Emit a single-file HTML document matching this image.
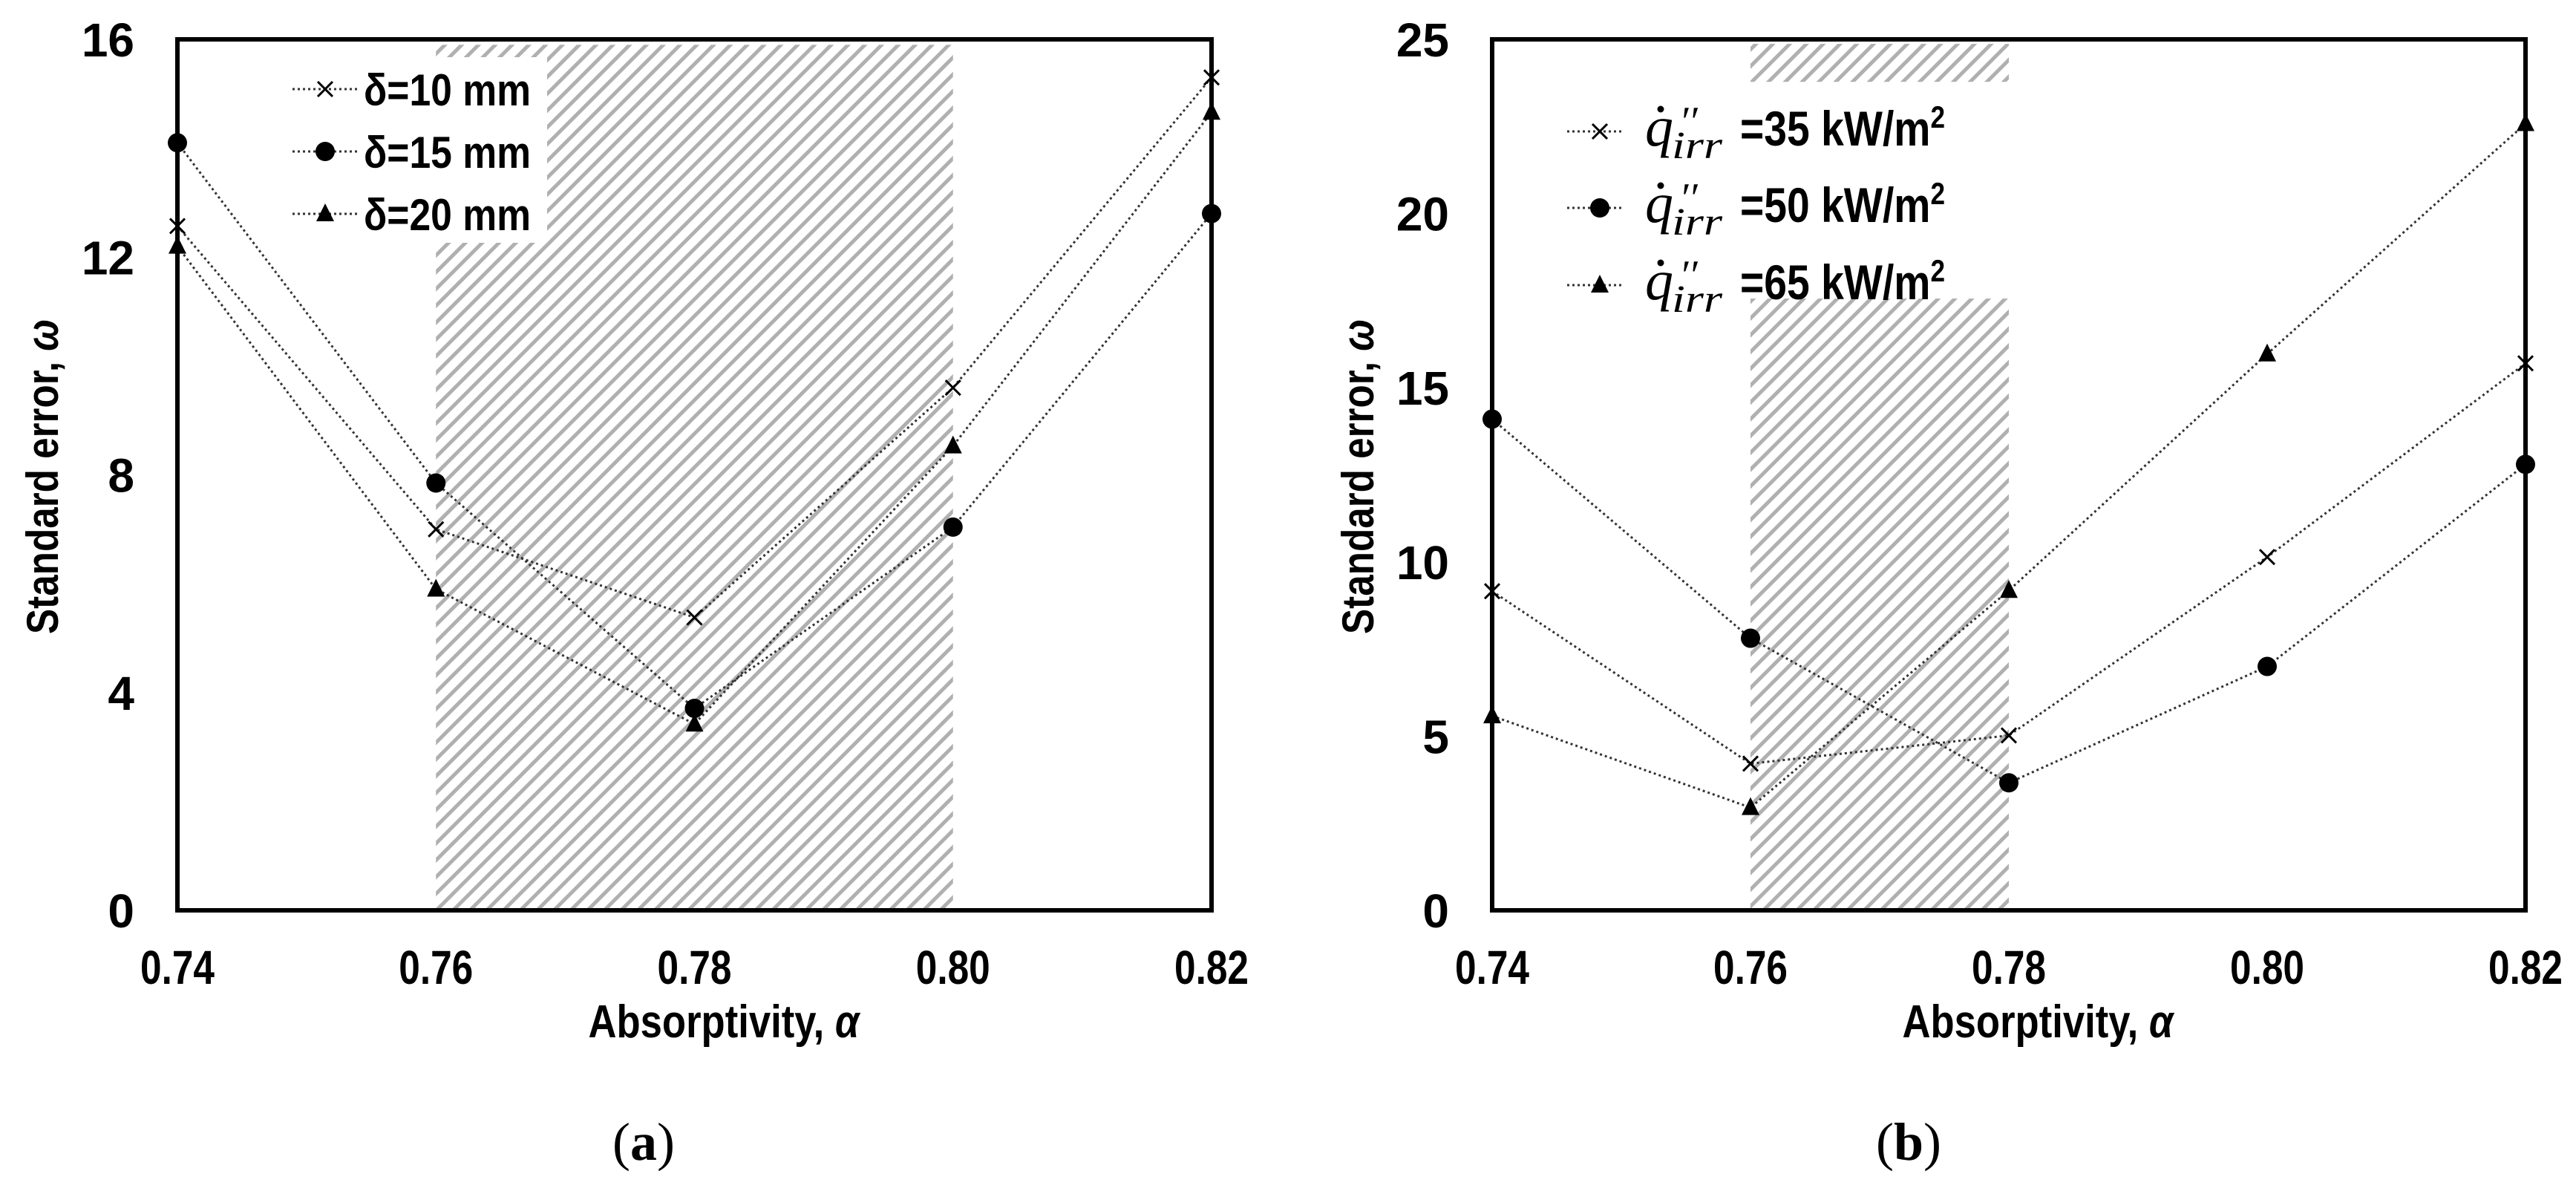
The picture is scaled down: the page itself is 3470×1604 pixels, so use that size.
<!DOCTYPE html>
<html><head><meta charset="utf-8"><style>
html,body{margin:0;padding:0;background:#fff;}
svg{display:block;}
text{font-family:"Liberation Sans Narrow","Liberation Sans",sans-serif;font-weight:bold;fill:#000;}
.serif{font-family:"Liberation Serif",serif;font-weight:normal;}
</style></head><body>
<svg id="fig" width="3470" height="1604" viewBox="0 0 3470 1604" xmlns="http://www.w3.org/2000/svg">
<defs>
<pattern id="hatch" patternUnits="userSpaceOnUse" width="16" height="16" patternTransform="rotate(45)">
<rect width="16" height="16" fill="#fff"/>
<rect x="0" y="0" width="5" height="16" fill="#b0b0b0"/>
</pattern>
</defs>
<g id="chartA"></g>
<g id="chartB"></g>
<text class="serif" x="867" y="1562" font-size="72" text-anchor="middle">(<tspan font-weight="bold">a</tspan>)</text>
<text class="serif" x="2571" y="1562" font-size="72" text-anchor="middle">(<tspan font-weight="bold">b</tspan>)</text>
</svg>
<script>
const categories = [0.74, 0.76, 0.78, 0.80, 0.82];
const xTickLabels = ["0.74", "0.76", "0.78", "0.80", "0.82"];
const yTicksA = [0, 4, 8, 12, 16];
const yTicksB = [0, 5, 10, 15, 20, 25];
const seriesA10 = [12.57, 7.0, 5.38, 9.6, 15.3];
const seriesA15 = [14.1, 7.85, 3.71, 7.04, 12.8];
const seriesA20 = [12.2, 5.9, 3.42, 8.53, 14.66];
const seriesB35 = [9.16, 4.21, 5.02, 10.14, 15.7];
const seriesB50 = [14.1, 7.81, 3.66, 7.0, 12.8];
const seriesB65 = [5.58, 2.95, 9.18, 15.97, 22.58];
const hatchA = [[0.76, 0.80, 0, 15.9]];
const hatchB = [[0.76, 0.78, 0, 17.56], [0.76, 0.78, 23.78, 24.87]];

const NS = "http://www.w3.org/2000/svg";
function mk(tag, attrs, parent){const e=document.createElementNS(NS,tag);for(const k in attrs)e.setAttribute(k,attrs[k]);parent.appendChild(e);return e;}

function drawChart(g, x0, x1, y0, y1, ymax, yTicks, hatch, series, markers, prefix){
  const xs = v => x0 + (v - 0.74) / (0.82 - 0.74) * (x1 - x0);
  const ys = v => y1 - v / ymax * (y1 - y0);
  hatch.forEach((h,i)=>{
    const r = mk('rect',{x:xs(h[0]),y:ys(h[3]),width:xs(h[1])-xs(h[0]),height:ys(h[2])-ys(h[3]),fill:'url(#hatch)'},g);
    
    
  });
  series.forEach((s,si)=>{
    const pts = s.map((v,i)=>xs(categories[i])+','+ys(v)).join(' ');
    const pl = mk('polyline',{points:pts,fill:'none',stroke:'#333','stroke-width':3,'stroke-dasharray':'3 4'},g);
    
    
    s.forEach((v,i)=>{
      const m = drawMarker(g, markers[si], xs(categories[i]), ys(v));
      
      
    });
  });
  const fr = mk('rect',{x:x0,y:y0,width:x1-x0,height:y1-y0,fill:'none',stroke:'#000','stroke-width':6},g);
  
  
  yTicks.forEach(t=>{
    const tx = mk('text',{x:x0-58,y:ys(t)+23,'font-size':64,'text-anchor':'end'},g);
    tx.textContent = String(t);
    
    
  });
  categories.forEach((c,i)=>{
    const tx = mk('text',{x:xs(c),y:1325,'font-size':64,'text-anchor':'middle',textLength:100,lengthAdjust:'spacingAndGlyphs'},g);
    tx.textContent = xTickLabels[i];
    
    
  });
  return {xs, ys};
}
function drawMarker(g, type, x, y){
  if(type==='x'){
    return mk('path',{d:`M${x-10},${y-10}L${x+10},${y+10}M${x-10},${y+10}L${x+10},${y-10}`,stroke:'#000','stroke-width':3,fill:'none'},g);
  } else if(type==='o'){
    return mk('circle',{cx:x,cy:y,r:13,fill:'#000'},g);
  } else {
    return mk('path',{d:`M${x},${y-14}L${x+12},${y+10}L${x-12},${y+10}Z`,fill:'#000'},g);
  }
}
const gA = document.getElementById('chartA');
const gB = document.getElementById('chartB');
drawChart(gA, 239, 1632, 53, 1226, 16, yTicksA, hatchA, [seriesA10, seriesA15, seriesA20], ['x','o','t'], 'a');
drawChart(gB, 2010, 3402, 53, 1226, 25, yTicksB, hatchB, [seriesB35, seriesB50, seriesB65], ['x','o','t'], 'b');

[[gA,975,'a'],[gB,2745,'b']].forEach(([g,cx,p])=>{
  const t = mk('text',{x:cx,y:1397,'font-size':62,'text-anchor':'middle',textLength:365,lengthAdjust:'spacingAndGlyphs'},g);
  t.innerHTML = 'Absorptivity, <tspan font-style="italic" font-family="Liberation Sans">α</tspan>';
  
  
});
[[gA,58,'a'],[gB,1830,'b']].forEach(([g,cx,p])=>{
  const t = mk('text',{x:cx+20,y:642,'font-size':60,'text-anchor':'middle',textLength:424,lengthAdjust:'spacingAndGlyphs',transform:`rotate(-90 ${cx+20} 642)`},g);
  t.innerHTML = 'Standard error, <tspan font-style="italic" font-family="Liberation Sans">ω</tspan>';
  
  
});

const legA = mk('g',{},gA);


mk('rect',{x:366,y:77,width:371,height:250,fill:'#fff'},legA);
const labelsA = ['δ=10 mm','δ=15 mm','δ=20 mm'];
const mkA = ['x','o','t'];
const legYA = [120,204,288];
labelsA.forEach((l,i)=>{
  const e = mk('g',{},legA);
  
  
  mk('line',{x1:394,y1:legYA[i],x2:483,y2:legYA[i],stroke:'#333','stroke-width':3,'stroke-dasharray':'3 4'},e);
  drawMarker(e, mkA[i], 438, legYA[i]);
  const t = mk('text',{x:490,y:legYA[i]+22,'font-size':60,textLength:225,lengthAdjust:'spacingAndGlyphs'},e);
  t.textContent = l;
});
const legB = mk('g',{},gB);


const labelsB = ['=35 kW/m','=50 kW/m','=65 kW/m'];
const legYB = [177,280,384];
labelsB.forEach((l,i)=>{
  const e = mk('g',{},legB);
  
  
  const y = legYB[i];
  mk('line',{x1:2111,y1:y,x2:2187,y2:y,stroke:'#333','stroke-width':3,'stroke-dasharray':'3 4'},e);
  drawMarker(e, mkA[i], 2155, y);
  const q = mk('text',{class:'serif',x:2216,y:y+19,'font-size':76,'font-style':'italic','font-weight':'bold'},e);
  q.textContent = 'q';
  mk('circle',{cx:2237,cy:y-30,r:4.5,fill:'#000'},e);
  const pr = mk('text',{class:'serif',x:2262,y:y+5,'font-size':56,'font-style':'italic'},e);
  pr.textContent = '′′';
  const sb = mk('text',{class:'serif',x:2252,y:y+36,'font-size':52,'font-style':'italic','font-weight':'bold',textLength:68,lengthAdjust:'spacingAndGlyphs'},e);
  sb.textContent = 'irr';
  const t = mk('text',{x:2344,y:y+19,'font-size':66,textLength:276,lengthAdjust:'spacingAndGlyphs'},e);
  t.innerHTML = l + '<tspan dy="-24" font-size="42">2</tspan>';
});
</script>
</body></html>
